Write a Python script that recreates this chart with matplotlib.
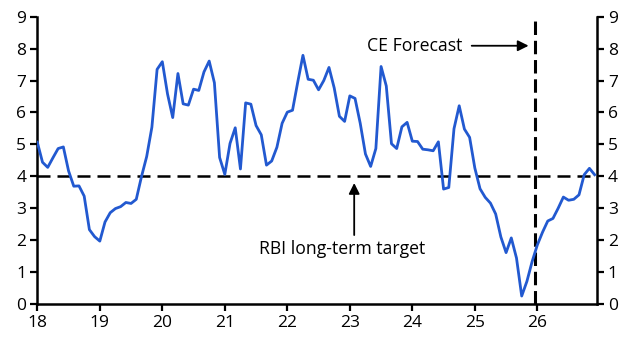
import matplotlib
matplotlib.use("Agg")
import matplotlib.pyplot as plt
import numpy as np

plt.rcParams['font.family'] = ['Open Sans', 'DejaVu Sans']

# Monthly CPI inflation (% y/y), Jan 2018 - Dec 2026 (forecast from Dec 2025)
start_year = 18
cpi = [
    # 2018
    5.07, 4.44, 4.28, 4.58, 4.87, 4.92, 4.17, 3.69, 3.70, 3.38, 2.33, 2.11,
    # 2019
    1.97, 2.57, 2.86, 2.99, 3.05, 3.18, 3.15, 3.28, 3.99, 4.62, 5.54, 7.35,
    # 2020
    7.59, 6.58, 5.84, 7.22, 6.27, 6.23, 6.73, 6.69, 7.27, 7.61, 6.93, 4.59,
    # 2021
    4.06, 5.03, 5.52, 4.23, 6.30, 6.26, 5.59, 5.30, 4.35, 4.48, 4.91, 5.66,
    # 2022
    6.01, 6.07, 6.95, 7.79, 7.04, 7.01, 6.71, 7.00, 7.41, 6.77, 5.88, 5.72,
    # 2023
    6.52, 6.44, 5.66, 4.70, 4.31, 4.87, 7.44, 6.83, 5.02, 4.87, 5.55, 5.69,
    # 2024
    5.10, 5.09, 4.85, 4.83, 4.80, 5.08, 3.60, 3.65, 5.49, 6.21, 5.48, 5.22,
    # 2025
    4.26, 3.61, 3.34, 3.16, 2.82, 2.10, 1.61, 2.07, 1.44, 0.25, 0.71, 1.33,
    # 2026 (forecast)
    1.85, 2.25, 2.60, 2.68, 3.00, 3.35, 3.25, 3.28, 3.42, 4.05, 4.25, 4.05,
]
target = 4.0
forecast_start = 25.96
year_ticks = [18, 19, 20, 21, 22, 23, 24, 25, 26]
y_ticks = [0, 1, 2, 3, 4, 5, 6, 7, 8, 9]

x = start_year + np.arange(len(cpi)) / 12.0

fig = plt.figure(figsize=(6.41, 3.5), dpi=100)
ax = fig.add_axes([0.0582, 0.1314, 0.9309 - 0.0582, 0.9523 - 0.1314])

ax.axhline(target, color='black', lw=1.8, dashes=(5.2, 2.8), zorder=2)
ax.axvline(forecast_start, color='black', lw=2.2, dashes=(4.4, 1.9), zorder=2)
ax.plot(x, cpi, color='#2259D0', lw=2.0, zorder=3)

ax.set_xlim(18, 26.95)
ax.set_ylim(0, 9)
ax.set_xticks(year_ticks)
ax.set_xticklabels([str(t) for t in year_ticks])
ax.set_yticks(y_ticks)

ax.spines['top'].set_visible(False)
for s in ['left', 'right', 'bottom']:
    ax.spines[s].set_linewidth(1.8)
ax.tick_params(axis='both', which='both', direction='out', length=5, width=1.6,
               labelsize=12.5, colors='black', pad=3)
ax.tick_params(axis='y', left=True, right=True, labelleft=True, labelright=True)

ax.annotate('', xy=(25.86, 8.09), xytext=(24.95, 8.09),
            arrowprops=dict(arrowstyle='-|>', color='black', lw=1.3,
                            mutation_scale=16, shrinkA=0, shrinkB=0))
ax.text(24.04, 8.09, 'CE Forecast', ha='center', va='center', fontsize=12.7)

ax.annotate('', xy=(23.07, 3.79), xytext=(23.07, 2.16),
            arrowprops=dict(arrowstyle='-|>', color='black', lw=1.3,
                            mutation_scale=16, shrinkA=0, shrinkB=0))
ax.text(22.875, 1.72, 'RBI long-term target', ha='center', va='center', fontsize=12.7)

fig.savefig('out.png', dpi=100)
